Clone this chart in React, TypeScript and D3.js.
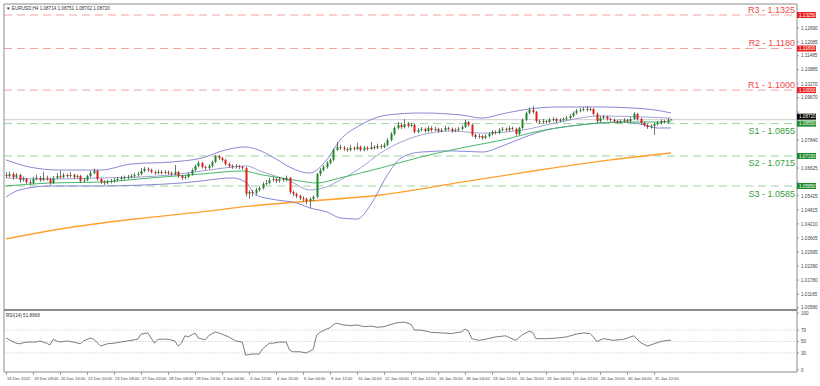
import React from "react";
import * as d3 from "d3";

// EURUSD H4, prices in 1/10000 (pips)
const headerText = "EURUSD,H4 1.08714 1.08751 1.08702 1.08720";
const rsiText = "RSI(14) 51.8968";

const firstOpenPips = 10633;
const closePips = [
  10628, 10637, 10624, 10633, 10611, 10615, 10602, 10598, 10615, 10620,
  10611, 10620, 10615, 10598, 10620, 10628, 10624, 10633, 10628, 10633,
  10624, 10628, 10607, 10611, 10628, 10641, 10650, 10615, 10602, 10598,
  10602, 10607, 10611, 10615, 10620, 10621, 10624, 10628, 10633, 10637,
  10650, 10659, 10654, 10646, 10641, 10646, 10641, 10645, 10641, 10637,
  10646, 10628, 10620, 10624, 10637, 10654, 10672, 10685, 10667, 10663,
  10672, 10689, 10715, 10706, 10698, 10680, 10672, 10667, 10671, 10667,
  10663, 10551, 10559, 10555, 10568, 10576, 10594, 10598, 10611, 10615,
  10607, 10615, 10611, 10620, 10559, 10551, 10542, 10533, 10529, 10520,
  10529, 10538, 10637, 10654, 10667, 10685, 10698, 10741, 10754, 10750,
  10745, 10741, 10750, 10745, 10754, 10741, 10750, 10745, 10754, 10750,
  10758, 10754, 10763, 10784, 10810, 10836, 10849, 10840, 10853, 10845,
  10849, 10819, 10827, 10832, 10823, 10836, 10827, 10832, 10823, 10827,
  10836, 10832, 10823, 10827, 10832, 10840, 10862, 10849, 10806, 10797,
  10801, 10793, 10801, 10810, 10819, 10815, 10827, 10832, 10827, 10836,
  10832, 10810, 10836, 10871, 10901, 10914, 10905, 10866, 10862, 10866,
  10862, 10871, 10875, 10866, 10871, 10875, 10879, 10888, 10901, 10910,
  10914, 10918, 10914, 10918, 10897, 10866, 10879, 10884, 10875, 10871,
  10866, 10862, 10866, 10871, 10866, 10875, 10897, 10875, 10858, 10849,
  10840, 10845, 10853, 10858, 10866, 10862, 10871, 10872,
];
const highPips = [
  10645, 10648, 10644, 10641, 10638, 10626, 10620, 10612, 10625, 10634,
  10628, 10646, 10630, 10622, 10628, 10640, 10652, 10642, 10639, 10646,
  10638, 10636, 10633, 10620, 10634, 10650, 10661, 10656, 10620, 10610,
  10612, 10615, 10619, 10624, 10628, 10630, 10633, 10637, 10641, 10646,
  10663, 10668, 10665, 10660, 10652, 10655, 10653, 10654, 10652, 10648,
  10676, 10650, 10633, 10632, 10644, 10660, 10678, 10693, 10690, 10673,
  10680, 10696, 10720, 10718, 10710, 10702, 10686, 10678, 10680, 10676,
  10672, 10668, 10566, 10568, 10577, 10585, 10602, 10611, 10620, 10626,
  10620, 10624, 10622, 10630, 10625, 10565, 10556, 10548, 10540, 10534,
  10536, 10545, 10642, 10662, 10675, 10692, 10706, 10748, 10775, 10764,
  10758, 10752, 10762, 10756, 10772, 10760, 10758, 10757, 10775, 10762,
  10768, 10766, 10772, 10792, 10818, 10844, 10862, 10858, 10875, 10862,
  10858, 10855, 10836, 10840, 10838, 10845, 10843, 10841, 10837, 10836,
  10846, 10842, 10838, 10835, 10840, 10848, 10871, 10866, 10854, 10812,
  10810, 10807, 10809, 10818, 10827, 10826, 10836, 10840, 10838, 10845,
  10842, 10837, 10841, 10878, 10908, 10925, 10931, 10910, 10872, 10875,
  10870, 10879, 10884, 10880, 10878, 10882, 10888, 10896, 10908, 10918,
  10923, 10926, 10931, 10925, 10922, 10903, 10887, 10892, 10889, 10881,
  10877, 10872, 10874, 10879, 10876, 10883, 10905, 10901, 10880, 10863,
  10854, 10852, 10860, 10866, 10873, 10871, 10878, 10875,
];
const lowPips = [
  10620, 10622, 10612, 10618, 10600, 10604, 10594, 10588, 10592, 10609,
  10603, 10606, 10608, 10590, 10594, 10614, 10617, 10618, 10620, 10622,
  10615, 10618, 10598, 10600, 10606, 10622, 10636, 10608, 10594, 10590,
  10592, 10596, 10600, 10605, 10609, 10612, 10614, 10618, 10620, 10625,
  10631, 10644, 10646, 10639, 10633, 10635, 10634, 10636, 10633, 10629,
  10631, 10620, 10611, 10613, 10618, 10630, 10648, 10666, 10660, 10655,
  10657, 10666, 10684, 10698, 10690, 10673, 10664, 10659, 10660, 10658,
  10655, 10540, 10530, 10540, 10546, 10561, 10570, 10588, 10592, 10605,
  10598, 10600, 10603, 10605, 10550, 10540, 10532, 10524, 10518, 10505,
  10490, 10520, 10532, 10628, 10648, 10660, 10678, 10692, 10736, 10740,
  10737, 10733, 10735, 10738, 10740, 10734, 10735, 10738, 10741, 10742,
  10744, 10746, 10748, 10757, 10778, 10803, 10830, 10832, 10835, 10838,
  10840, 10812, 10813, 10822, 10816, 10818, 10820, 10822, 10815, 10818,
  10822, 10825, 10816, 10818, 10821, 10826, 10835, 10842, 10798, 10789,
  10790, 10785, 10788, 10795, 10804, 10808, 10810, 10822, 10820, 10821,
  10825, 10803, 10805, 10830, 10865, 10895, 10898, 10858, 10853, 10855,
  10854, 10856, 10865, 10859, 10860, 10864, 10869, 10873, 10882, 10895,
  10904, 10908, 10907, 10909, 10890, 10858, 10860, 10873, 10868, 10864,
  10859, 10855, 10856, 10860, 10859, 10860, 10870, 10868, 10850, 10842,
  10832, 10834, 10806, 10846, 10851, 10855, 10857, 10870,
];

// indicator lines: [bar index, price pips]
const bbUpper = [
  [0, 10698], [7, 10667], [16, 10654], [28, 10654], [37, 10680], [49, 10689],
  [58, 10706], [65, 10741], [71, 10754], [74, 10745], [80, 10702], [84, 10667],
  [90, 10641], [95, 10698], [99, 10784], [105, 10849], [113, 10892], [123, 10901],
  [135, 10892], [141, 10879], [147, 10897], [153, 10914], [164, 10927], [176, 10927],
  [185, 10923], [194, 10910], [197, 10901],
];
const bbMiddle = [
  [0, 10620], [13, 10615], [28, 10620], [40, 10624], [49, 10633], [58, 10650],
  [67, 10667], [71, 10672], [76, 10646], [84, 10607], [90, 10568], [95, 10581],
  [99, 10611], [105, 10663], [111, 10728], [117, 10775], [123, 10806], [132, 10823],
  [141, 10814], [153, 10827], [164, 10862], [176, 10888], [188, 10884], [197, 10879],
];
const bbLower = [
  [0, 10538], [4, 10568], [13, 10585], [28, 10585], [40, 10589], [52, 10598],
  [58, 10607], [67, 10620], [71, 10602], [74, 10546], [80, 10525], [86, 10512],
  [90, 10490], [95, 10473], [99, 10447], [104, 10442], [108, 10503], [113, 10633],
  [117, 10706], [123, 10732], [132, 10737], [141, 10732], [147, 10758], [153, 10793],
  [160, 10827], [170, 10849], [182, 10862], [188, 10853], [193, 10836], [197, 10836],
];
const maGreen = [
  [0, 10585], [13, 10598], [28, 10602], [43, 10620], [58, 10637], [70, 10650],
  [76, 10633], [87, 10607], [92, 10598], [99, 10620], [111, 10663], [123, 10711],
  [135, 10750], [147, 10784], [158, 10823], [170, 10849], [176, 10858], [188, 10862],
  [197, 10862],
];
const maOrange = [
  [0, 10356], [16, 10399], [38, 10442], [58, 10473], [73, 10499], [90, 10520],
  [111, 10546], [135, 10602], [158, 10654], [179, 10698], [197, 10728],
];

// RSI(14): [bar index, value]
const rsiPoints = [
  [0, 56], [1, 53], [3, 47], [4, 46], [6, 49], [7, 49], [9, 49], [10, 51], [12, 47],
  [13, 44], [14, 54], [15, 51], [16, 49], [18, 51], [20, 49], [22, 46], [23, 51],
  [25, 56], [26, 54], [28, 42], [30, 46], [32, 47], [34, 49], [36, 51], [38, 53],
  [39, 54], [40, 63], [42, 65], [44, 47], [45, 54], [47, 54], [48, 54], [50, 51],
  [51, 42], [52, 47], [53, 60], [54, 58], [56, 65], [57, 56], [59, 53], [60, 60],
  [62, 67], [64, 63], [66, 58], [68, 51], [70, 49], [71, 26], [73, 28], [75, 28],
  [76, 37], [78, 47], [79, 47], [81, 49], [82, 49], [83, 49], [84, 35], [85, 32],
  [87, 32], [89, 30], [90, 33], [91, 36], [92, 61], [93, 66], [94, 69], [95, 72],
  [96, 74], [97, 80], [98, 82], [100, 79], [102, 78], [104, 79], [106, 76], [108, 77],
  [110, 75], [112, 76], [114, 80], [116, 83], [118, 84], [120, 80], [121, 70],
  [123, 70], [126, 66], [129, 65], [132, 64], [135, 67], [136, 72], [137, 68],
  [138, 55], [140, 52], [142, 54], [145, 58], [148, 60], [151, 52], [153, 62],
  [155, 68], [156, 66], [157, 55], [160, 55], [163, 56], [166, 58], [169, 63],
  [171, 65], [173, 64], [174, 58], [175, 50], [177, 55], [180, 52], [183, 54],
  [186, 60], [187, 54], [188, 48], [190, 42], [191, 44], [192, 46], [194, 50],
  [196, 52], [197, 52],
];

const levelNames = ["R3", "R2", "R1", "S1", "S2", "S3"];
const levelValues = [1.1325, 1.118, 1.1, 1.0855, 1.0715, 1.0585];

const priceTicks = [
  1.1269, 1.12085, 1.11485, 1.10885, 1.1027, 1.0967, 1.0905, 1.0845, 1.0784,
  1.07235, 1.06625, 1.0602, 1.05425, 1.04815, 1.0421, 1.03605, 1.02995, 1.0239,
  1.0178, 1.01165, 1.0058,
];
const rsiTicks = [100, 70, 50, 30, 0];
const rsiLevels = [70, 50, 30];

const timeLabels = [
  "16 Dec 2022", "19 Dec 08:00", "20 Dec 16:00", "22 Dec 00:00", "23 Dec 08:00",
  "27 Dec 00:00", "28 Dec 08:00", "29 Dec 16:00", "3 Jan 04:00", "3 Jan 12:00",
  "4 Jan 20:00", "6 Jan 04:00", "9 Jan 12:00", "10 Jan 20:00", "12 Jan 04:00",
  "13 Jan 12:00", "16 Jan 20:00", "18 Jan 04:00", "19 Jan 12:00", "20 Jan 20:00",
  "24 Jan 04:00", "25 Jan 12:00", "26 Jan 20:00", "30 Jan 04:00", "31 Jan 12:00",
];
const barsPerLabel = 8;

const W = 820;
const H = 386;
const left = 4;
const right = 797;
const mainTop = 4;
const mainBottom = 309;
const rsiBottom = 372;

const font = "Liberation Sans, Arial, sans-serif";
const tiny = { fontFamily: font, fontSize: 4.6 };

export default function App() {
  const closes = closePips.map((p) => p / 10000);
  const highs = highPips.map((p) => p / 10000);
  const lows = lowPips.map((p) => p / 10000);
  const opens = closes.map((c, i) => (i === 0 ? firstOpenPips / 10000 : closes[i - 1]));
  const last = closes[closes.length - 1];

  const x = d3.scaleLinear().domain([0, closes.length - 1]).range([6, 671]);
  const y = d3.scaleLinear().domain([1.0585, 1.1325]).range([186, 15]);
  const yRsi = d3.scaleLinear().domain([0, 100]).range([370, 313]);

  const priceLine = d3
    .line<number[]>()
    .x((d) => x(d[0]))
    .y((d) => y(d[1] / 10000))
    .curve(d3.curveMonotoneX);
  const rsiLine = d3
    .line<number[]>()
    .x((d) => x(d[0]))
    .y((d) => yRsi(d[1]));

  const fmt = d3.format(".5f");

  // axis badges: level boxes and the current price box (sits just above the bid line)
  const lastBoxY = y(last) - 6;
  const boxYs = levelValues.map((v) => y(v) - 3).concat([lastBoxY]);
  const visibleTicks = priceTicks.filter(
    (t) => boxYs.every((b) => Math.abs(y(t) - (b + 3)) > 5.5)
  );

  return (
    <svg width={W} height={H} style={{ position: "fixed", left: 0, top: 0, background: "#fff" }}>
      <defs>
        <clipPath id="mainClip">
          <rect x={left} y={mainTop} width={right - left} height={mainBottom - mainTop} />
        </clipPath>
      </defs>
      <rect width={W} height={H} fill="#fff" />

      {/* main panel */}
      <g clipPath="url(#mainClip)">
        {/* bid line */}
        <line x1={left} x2={right} y1={y(last)} y2={y(last)} stroke="#c0c0c0" strokeWidth={0.8} />

        {levelNames.map((n, i) => {
          const res = n.startsWith("R");
          return (
            <line
              key={n}
              x1={left}
              x2={right}
              y1={y(levelValues[i])}
              y2={y(levelValues[i])}
              stroke={res ? "#f4a3a3" : "#9fd49f"}
              strokeWidth={1}
              strokeDasharray="8 5"
            />
          );
        })}

        <path d={priceLine(maOrange) || ""} fill="none" stroke="#ffa02e" strokeWidth={1.4} />
        <path d={priceLine(bbUpper) || ""} fill="none" stroke="#7b7bd0" strokeWidth={0.9} />
        <path d={priceLine(bbLower) || ""} fill="none" stroke="#7b7bd0" strokeWidth={0.9} />
        <path d={priceLine(bbMiddle) || ""} fill="none" stroke="#8a8ac8" strokeWidth={0.8} />
        <path d={priceLine(maGreen) || ""} fill="none" stroke="#45b86a" strokeWidth={1} />

        {closes.map((c, i) => {
          const o = opens[i];
          const up = c >= o;
          const cx = Math.round(x(i)) + 0.5;
          const top = y(Math.max(o, c));
          const bot = y(Math.min(o, c));
          return (
            <g key={i}>
              <line x1={cx} x2={cx} y1={y(highs[i])} y2={y(lows[i])} stroke="#3a3a3a" strokeWidth={0.7} />
              <rect
                x={cx - 1}
                y={top}
                width={2}
                height={Math.max(0.8, bot - top)}
                fill={up ? "#1d8a2a" : "#e01b1b"}
              />
            </g>
          );
        })}
      </g>

      {levelNames.map((n, i) => {
        const res = n.startsWith("R");
        const yy = y(levelValues[i]);
        return (
          <text
            key={n}
            x={795}
            y={res ? yy - 2.5 : yy + 10.5}
            textAnchor="end"
            fontFamily={font}
            fontSize={9}
            fill={res ? "#ee4848" : "#3c9a3c"}
          >
            {`${n} - ${levelValues[i].toFixed(4)}`}
          </text>
        );
      })}

      {/* frames */}
      <line x1={left} x2={left} y1={mainTop} y2={rsiBottom} stroke="#8c8c8c" strokeWidth={1} />
      <line x1={left} x2={right} y1={mainTop} y2={mainTop} stroke="#8c8c8c" strokeWidth={1} />
      <line x1={right} x2={right} y1={mainTop} y2={rsiBottom} stroke="#8c8c8c" strokeWidth={1} />
      <line x1={left} x2={right} y1={mainBottom + 1} y2={mainBottom + 1} stroke="#8c8c8c" strokeWidth={2} />
      <line x1={left} x2={right} y1={rsiBottom} y2={rsiBottom} stroke="#8c8c8c" strokeWidth={1} />

      {/* price axis */}
      {priceTicks.map((t) => (
        <line key={t} x1={right} x2={right + 2} y1={y(t)} y2={y(t)} stroke="#666" strokeWidth={0.6} />
      ))}
      {visibleTicks.map((t) => (
        <text key={t} x={right + 4} y={y(t) + 1.7} {...tiny} fill="#444">
          {fmt(t)}
        </text>
      ))}
      {levelNames.map((n, i) => {
        const res = n.startsWith("R");
        const yy = y(levelValues[i]);
        const by = n === "S1" ? Math.max(yy - 3, lastBoxY + 6.5) : yy - 3;
        return (
          <g key={n}>
            <rect x={right} y={by} width={19} height={6} fill={res ? "#e81e1e" : "#1f8a2a"} />
            <text x={right + 2} y={by + 4.7} {...tiny} fill="#fff">
              {fmt(levelValues[i])}
            </text>
          </g>
        );
      })}
      <rect x={right} y={lastBoxY} width={19} height={6} fill="#000" />
      <text x={right + 2} y={lastBoxY + 4.7} {...tiny} fill="#fff">
        {fmt(last)}
      </text>

      {/* header */}
      <text x={6} y={10} {...tiny} fill="#333">
        {"\u25BC " + headerText}
      </text>

      {/* RSI panel */}
      {rsiLevels.map((l) => (
        <line
          key={l}
          x1={left}
          x2={right}
          y1={yRsi(l)}
          y2={yRsi(l)}
          stroke="#c4c4c4"
          strokeWidth={0.7}
          strokeDasharray="1.5 1.5"
        />
      ))}
      <path d={rsiLine(rsiPoints) || ""} fill="none" stroke="#5a5a5a" strokeWidth={0.8} />
      <text x={6} y={317} {...tiny} fill="#333">
        {rsiText}
      </text>
      {rsiTicks.map((t) => (
        <g key={t}>
          <line x1={right} x2={right + 2} y1={yRsi(t)} y2={yRsi(t)} stroke="#666" strokeWidth={0.6} />
          <text x={right + 4} y={yRsi(t) + 1.7} {...tiny} fill="#444">
            {t}
          </text>
        </g>
      ))}

      {/* time axis */}
      {timeLabels.map((lab, k) => {
        const xx = Math.round(x(k * barsPerLabel));
        return (
          <g key={lab}>
            <line x1={xx + 0.5} x2={xx + 0.5} y1={rsiBottom} y2={rsiBottom + 3} stroke="#666" strokeWidth={0.6} />
            <text x={xx + 1} y={rsiBottom + 8} fontFamily={font} fontSize={4.1} fill="#444">
              {lab}
            </text>
          </g>
        );
      })}
    </svg>
  );
}
